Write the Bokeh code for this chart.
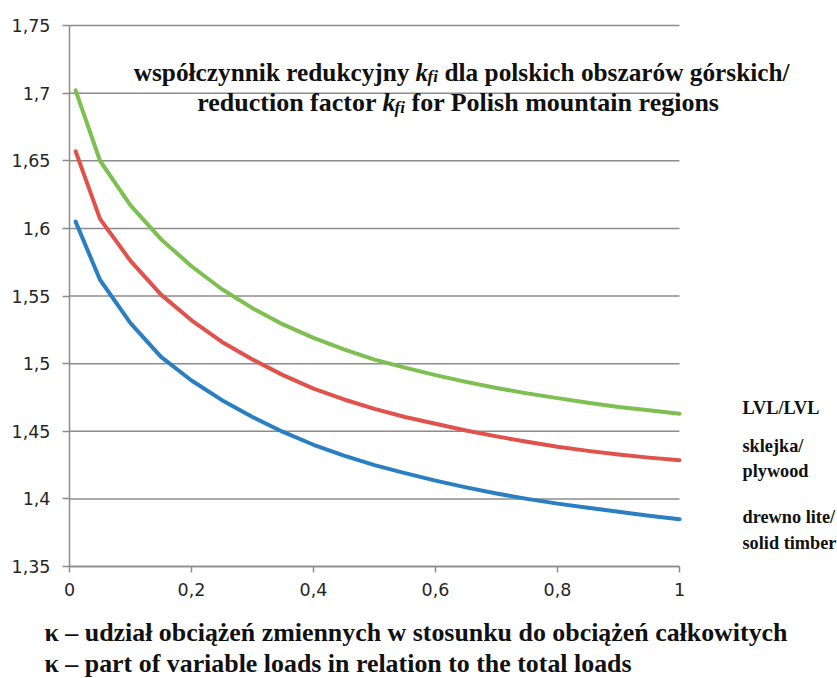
from bokeh.plotting import figure
from bokeh.models import Label, FixedTicker, CustomJSTickFormatter, Range1d
from bokeh.embed import file_html
from bokeh.resources import INLINE

# ---- data ----
kappa = [0.01, 0.05, 0.10, 0.15, 0.20, 0.25, 0.30, 0.35, 0.40, 0.45, 0.50,
         0.55, 0.60, 0.65, 0.70, 0.75, 0.80, 0.85, 0.90, 0.95, 1.00]
kfi_lvl = [1.702, 1.650, 1.617, 1.592, 1.572, 1.555, 1.541, 1.529, 1.519, 1.5105, 1.503,
           1.497, 1.4915, 1.4865, 1.482, 1.478, 1.4745, 1.471, 1.468, 1.4655, 1.463]
kfi_plywood = [1.657, 1.607, 1.576, 1.551, 1.532, 1.516, 1.503, 1.4915, 1.4815, 1.4735, 1.4665,
               1.4605, 1.4555, 1.4505, 1.4462, 1.4422, 1.4385, 1.4355, 1.4328, 1.4305, 1.4285]
kfi_solid = [1.605, 1.562, 1.530, 1.505, 1.4875, 1.473, 1.4605, 1.4495, 1.440, 1.432, 1.425,
             1.419, 1.4135, 1.4085, 1.404, 1.400, 1.3965, 1.3935, 1.3905, 1.3875, 1.385]

series_names = ["LVL/LVL", "sklejka/\nplywood", "drewno lite/\nsolid timber"]

x_ticks = [0, 0.2, 0.4, 0.6, 0.8, 1]
x_tick_labels = ["0", "0,2", "0,4", "0,6", "0,8", "1"]
y_ticks = [1.35, 1.4, 1.45, 1.5, 1.55, 1.6, 1.65, 1.7, 1.75]
y_tick_labels = ["1,35", "1,4", "1,45", "1,5", "1,55", "1,6", "1,65", "1,7", "1,75"]

title_1 = ["współczynnik redukcyjny", "k", "fi", "dla polskich obszarów górskich/"]
title_2 = ["reduction factor", "k", "fi", "for Polish mountain regions"]
xlabel_1 = "κ – udział obciążeń zmiennych w stosunku do obciążeń całkowitych"
xlabel_2 = "κ – part of variable loads in relation to the total loads"

# ---- styling ----
GREEN, RED, BLUE = "#7dbf50", "#e0524b", "#2a7fc2"
GRID = "#8c8c8c"
SERIF = "Liberation Serif"
TICK_FONT = "DejaVu Sans"
TXT = "#111111"

# whole canvas is the frame; axes are pinned at x=0 and y=1.35
W, H = 837, 678
LEFT, TOP = 69, 25          # pixel position of x=0 / y=1.75
PX_PER_X = 610              # pixels for x 0..1
PX_PER_Y = 541 / 0.4        # pixels per unit y
XA, XB = x_ticks[0], x_ticks[-1]
YA, YB = y_ticks[0], y_ticks[-1]
x_range = Range1d(XA - LEFT / PX_PER_X, XA + (W - LEFT) / PX_PER_X)
y_range = Range1d(YB - (H - TOP) / PX_PER_Y, YB + TOP / PX_PER_Y)

p = figure(frame_width=W, frame_height=H, x_range=x_range, y_range=y_range,
           min_border=0, output_backend="svg", toolbar_location=None)
p.outline_line_color = None
p.background_fill_color = "white"
p.border_fill_color = "white"

p.xgrid.visible = False
p.ygrid.visible = False
# horizontal grid lines at the y ticks, across the x tick span
p.segment(x0=[XA] * len(y_ticks), x1=[XB] * len(y_ticks),
          y0=y_ticks, y1=y_ticks, line_color=GRID, line_width=1.5)

fmt_code = """
for (let i = 0; i < vals.length; i++) {
  if (Math.abs(vals[i] - tick) < 1e-9) return labs[i];
}
return '';
"""
p.xaxis.ticker = FixedTicker(ticks=x_ticks)
p.xaxis.formatter = CustomJSTickFormatter(args=dict(vals=x_ticks, labs=x_tick_labels), code=fmt_code)
p.xaxis.bounds = (XA, XB)
p.xaxis.fixed_location = YA
p.yaxis.ticker = FixedTicker(ticks=y_ticks)
p.yaxis.formatter = CustomJSTickFormatter(args=dict(vals=y_ticks, labs=y_tick_labels), code=fmt_code)
p.yaxis.bounds = (YA, YB)
p.yaxis.fixed_location = XA

for ax in (p.xaxis, p.yaxis):
    ax.axis_line_color = GRID
    ax.axis_line_width = 1.5
    ax.major_tick_line_color = GRID
    ax.major_tick_line_width = 1.5
    ax.major_tick_in = 0
    ax.minor_tick_line_color = None
    ax.major_label_text_font = TICK_FONT
    ax.major_label_text_font_size = "17.5px"
    ax.major_label_text_color = "#262626"
p.yaxis.major_tick_out = 7
p.yaxis.major_label_standoff = 12
p.xaxis.major_tick_out = 6
p.xaxis.major_label_standoff = 10

for ys, col in ((kfi_lvl, GREEN), (kfi_plywood, RED), (kfi_solid, BLUE)):
    p.line(kappa, ys, line_color=col, line_width=4, line_cap="round", line_join="round")

# ---- text placement helpers (page pixel -> data) ----
def xd(px):
    return XA + (px - LEFT) / PX_PER_X

def yd(py):
    return YB - (py - TOP) / PX_PER_Y

def lab(x, y, text, size="26px", style="bold", align="left", baseline="alphabetic"):
    p.add_layout(Label(x=xd(x), y=yd(y), text=text, text_font=SERIF,
                       text_font_style=style, text_font_size=size,
                       text_align=align, text_baseline=baseline,
                       text_color=TXT))

# title, two lines with italic k_fi
for line, base, kx, rx, fs in ((title_1, 71, 415, 444, "25.3px"), (title_2, 102, 382, 411, "26px")):
    lab(kx - 6, base, line[0], size=fs, align="right")
    lab(kx, base, line[1], size=fs, style="bold italic")
    lab(kx + 12, base + 5, line[2], size="17px", style="bold italic")
    lab(rx, base, line[3], size=fs)

# series labels on the right
right_rows = [(series_names[0].split("\n"), [407]),
              (series_names[1].split("\n"), [445, 470]),
              (series_names[2].split("\n"), [516, 542])]
for parts, ys in right_rows:
    for t, yy in zip(parts, ys):
        lab(742, yy, t, size="18.3px", baseline="middle")

# x-axis description: two left-aligned lines under the axis
lab(44, 632, xlabel_1, size="25.9px", baseline="middle")
lab(44, 663, xlabel_2, size="25.9px", baseline="middle")

open("out.html", "w").write(file_html(p, INLINE))
